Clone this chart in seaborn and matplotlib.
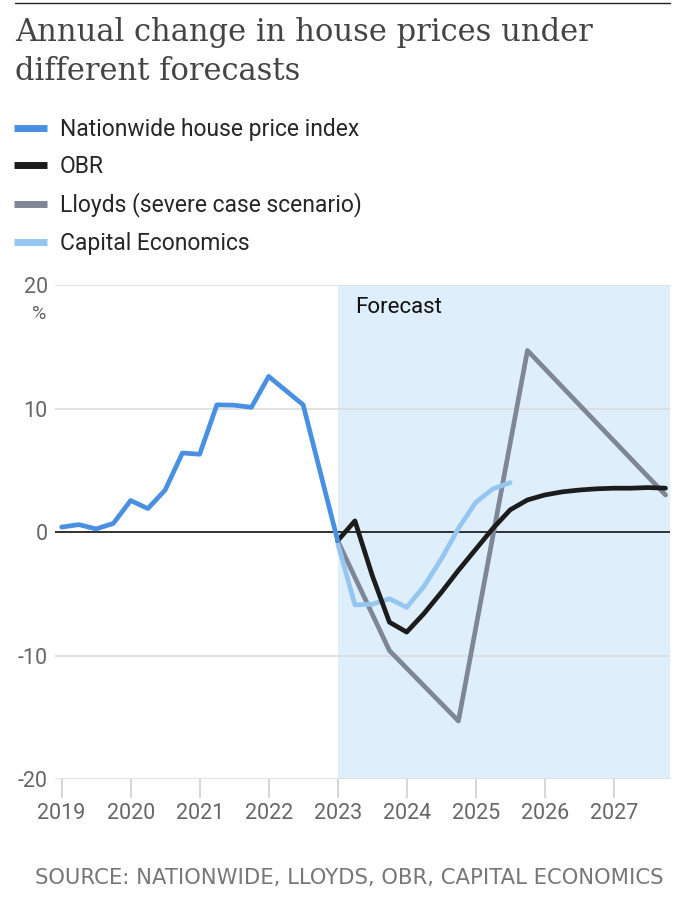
import numpy as np
import pandas as pd
import matplotlib
matplotlib.use("Agg")
import matplotlib.pyplot as plt
import seaborn as sns
from matplotlib.lines import Line2D

# Data
nw_x = [2019.0, 2019.25, 2019.5, 2019.75, 2020.0, 2020.25, 2020.5, 2020.75,
        2021.0, 2021.25, 2021.5, 2021.75, 2022.0, 2022.25, 2022.5, 2023.0]
nw_y = [0.4, 0.6, 0.25, 0.7, 2.55, 1.9, 3.4, 6.4,
        6.3, 10.3, 10.27, 10.1, 12.6, 11.45, 10.3, -0.7]

obr_x = [2023.0, 2023.25, 2023.5, 2023.75, 2024.0, 2024.25, 2024.5, 2024.75,
         2025.0, 2025.25, 2025.5, 2025.75, 2026.0, 2026.25, 2026.5, 2026.75,
         2027.0, 2027.25, 2027.5, 2027.75]
obr_y = [-0.7, 0.9, -3.5, -7.3, -8.1, -6.6, -4.9, -3.1,
         -1.4, 0.3, 1.8, 2.6, 3.0, 3.25, 3.4, 3.5,
         3.55, 3.55, 3.6, 3.55]

lloyds_x = [2023.0, 2023.75, 2024.75, 2025.75, 2027.75]
lloyds_y = [-0.7, -9.6, -15.3, 14.7, 3.0]

ce_x = [2023.0, 2023.25, 2023.5, 2023.75, 2024.0, 2024.25, 2024.5, 2024.75,
        2025.0, 2025.25, 2025.5]
ce_y = [-0.9, -5.9, -5.85, -5.4, -6.1, -4.4, -2.2, 0.3, 2.4, 3.5, 4.0]

series_names = ["Nationwide house price index", "OBR",
                "Lloyds (severe case scenario)", "Capital Economics"]
colors = ["#4a90e2", "#1c1c1c", "#7f8797", "#94c6f0"]
year_ticks = list(range(2019, 2028))

# long-form frame
frames = []
for name, xs, ys in zip(series_names, [nw_x, obr_x, lloyds_x, ce_x],
                        [nw_y, obr_y, lloyds_y, ce_y]):
    frames.append(pd.DataFrame({"year": xs, "change": ys, "series": name}))
data = pd.concat(frames)
palette = dict(zip(series_names, colors))

sns.set_style("white")
cond = ["Roboto", "DejaVu Sans"]
plt.rcParams["font.family"] = cond

fig = plt.figure(figsize=(6.84, 9), dpi=100)
ax = fig.add_axes([0.080, 0.1344, 0.900, 0.5489])

x_left, x_right = 2018.9, 2027.82
ax.axvspan(2023.0, x_right, color="#deeefb", zorder=0, lw=0)

for yv in [-20, -10, 10, 20]:
    ax.axhline(yv, color="#dddddd", lw=1.2, zorder=1)
ax.axhline(0, color="#222222", lw=1.3, zorder=1)

# draw order: gray, light blue, black, blue
for name in ["Lloyds (severe case scenario)", "Capital Economics", "OBR",
             "Nationwide house price index"]:
    sns.lineplot(data=data[data["series"] == name], x="year", y="change",
                 color=palette[name], lw=3.4, ax=ax, legend=False,
                 estimator=None, sort=False, zorder=3)

ax.set_xlim(x_left, x_right)
ax.set_ylim(-20, 20)
ax.set_xticks(year_ticks)
ax.set_xticklabels([str(y) for y in year_ticks])
ax.set_yticks([-20, -10, 0, 10, 20])
ax.set_yticklabels(["-20", "-10", "0", "10", "20"])
ax.tick_params(axis="x", colors="#d0d0d0", length=14, width=1.2, pad=3,
               labelsize=15.5, labelcolor="#666666", direction="out")
ax.tick_params(axis="y", length=0, pad=5, labelsize=15.5, labelcolor="#666666")
ax.xaxis.set_ticks_position("bottom")
for s in ax.spines.values():
    s.set_visible(False)
ax.set_xlabel("")
ax.set_ylabel("")

ax.text(-0.014, 0.96, "%", transform=ax.transAxes, ha="right", va="top",
        fontsize=14, color="#666666")
ax.text(2023.25, 18.2, "Forecast", ha="left", va="center", fontsize=16,
        color="#111111")

# top rule
fig.add_artist(Line2D([0.022, 0.98], [0.9965, 0.9965], color="#222222", lw=1))

fig.text(0.022, 0.981, "Annual change in house prices under\ndifferent forecasts",
         ha="left", va="top", fontsize=22, color="#444444",
         family=["DejaVu Serif"], linespacing=1.33)

handles = [Line2D([0], [0], color=c, lw=5, solid_capstyle="butt") for c in colors]
fig.legend(handles, series_names, loc="upper left",
           bbox_to_anchor=(0.007, 0.879), frameon=False, fontsize=16.5,
           handlelength=1.45, handletextpad=0.55, labelspacing=0.62,
           borderaxespad=0)

fig.text(0.051, 0.0245, "SOURCE: NATIONWIDE, LLOYDS, OBR, CAPITAL ECONOMICS",
         ha="left", va="center", fontsize=15.2, color="#777777",
         family=["DejaVu Sans"])

fig.savefig("out.png", dpi=100)
